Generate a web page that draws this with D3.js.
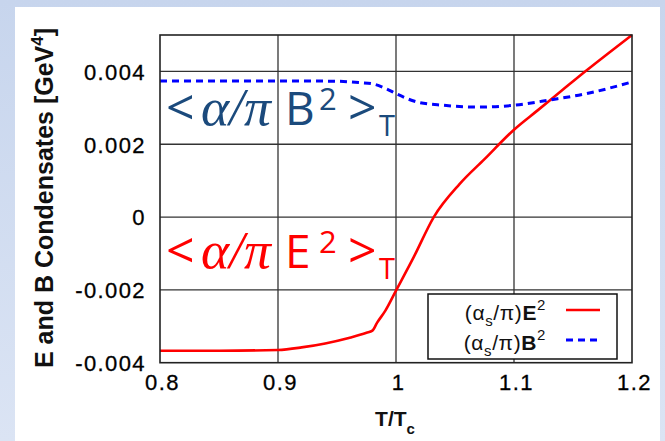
<!DOCTYPE html>
<html>
<head>
<meta charset="utf-8">
<script src="https://cdn.jsdelivr.net/npm/d3@7"></script>
<style>
  body { margin: 0; }
  svg { display: block; }
</style>
</head>
<body>
<div id="chart"></div>
<script>
// Data
const tValuesE = [0.80, 0.85, 0.90, 0.92, 0.94, 0.96, 0.975, 0.98, 0.984, 0.991, 1.00, 1.015, 1.032, 1.054, 1.075, 1.10, 1.12, 1.14, 1.16, 1.18, 1.20];
const eCondensate = [-0.00367, -0.00367, -0.00365, -0.00358, -0.00347, -0.00332, -0.00318, -0.00312, -0.0029, -0.00257, -0.00202, -0.0011, 0.0, 0.00091, 0.00159, 0.0024, 0.00293, 0.00346, 0.00399, 0.0045, 0.0050];

const tValuesB = [0.80, 0.85, 0.90, 0.95, 0.97, 0.98, 0.992, 1.00, 1.018, 1.04, 1.069, 1.10, 1.131, 1.16, 1.20];
const bCondensate = [0.00374, 0.00374, 0.00374, 0.00373, 0.00369, 0.00366, 0.00352, 0.00339, 0.00316, 0.00307, 0.00302, 0.00307, 0.00322, 0.00338, 0.00371];

const xTicks = [0.8, 0.9, 1.0, 1.1, 1.2];
const yTicks = [-0.004, -0.002, 0, 0.002, 0.004];
const legendLabels = [
  { main: "E", color: "#ff0000", dash: null },
  { main: "B", color: "#0000ff", dash: "7,5" }
];

const W = 665, H = 441;
const plot = { left: 160, right: 632, top: 35, bottom: 362.7 };

const svg = d3.select("#chart").append("svg")
  .attr("width", W)
  .attr("height", H);

// background
const defs = svg.append("defs");
const grad = defs.append("linearGradient")
  .attr("id", "bg").attr("x1", 0).attr("y1", 0).attr("x2", 0).attr("y2", 1);
grad.append("stop").attr("offset", "0%").attr("stop-color", "#c7d5ed");
grad.append("stop").attr("offset", "100%").attr("stop-color", "#dbe4f4");
svg.append("rect").attr("width", W).attr("height", H).attr("fill", "url(#bg)");
svg.append("rect")
  .attr("x", 15).attr("y", 7)
  .attr("width", 645).attr("height", H - 7)
  .attr("fill", "#ffffff");

// scales
const x = d3.scaleLinear().domain([0.8, 1.2]).range([plot.left, plot.right]);
const y = d3.scaleLinear().domain([-0.004, 0.005]).range([plot.bottom, plot.top]);

// grid
svg.append("g").selectAll("line")
  .data(xTicks.slice(1, -1))
  .enter().append("line")
  .attr("x1", d => x(d)).attr("x2", d => x(d))
  .attr("y1", plot.top).attr("y2", plot.bottom)
  .attr("stroke", "#333").attr("stroke-width", 1.3);

svg.append("g").selectAll("line")
  .data(yTicks.slice(1))
  .enter().append("line")
  .attr("x1", plot.left).attr("x2", plot.right)
  .attr("y1", d => y(d)).attr("y2", d => y(d))
  .attr("stroke", "#333").attr("stroke-width", 1.3);

// axes (labels only)
const xAxis = svg.append("g")
  .attr("transform", `translate(2,${plot.bottom})`)
  .call(d3.axisBottom(x).tickValues(xTicks).tickSize(0).tickPadding(8)
    .tickFormat(d => String(+d.toFixed(1))));
const yAxis = svg.append("g")
  .attr("transform", `translate(${plot.left},0)`)
  .call(d3.axisLeft(y).tickValues(yTicks).tickSize(0).tickPadding(14)
    .tickFormat(d => d === 0 ? "0" : d.toFixed(3)));
[xAxis, yAxis].forEach(g => {
  g.select(".domain").remove();
  g.selectAll("text")
    .attr("fill", "#000")
    .attr("stroke", "#000")
    .attr("stroke-width", 0.3)
    .style("font-family", "'Liberation Sans', Arial, sans-serif")
    .style("font-size", "22px")
    .style("letter-spacing", "1.4px");
});
xAxis.selectAll("text").attr("dy", "0.9em");
yAxis.selectAll("text").attr("dy", "0.36em");

// curves
const line = d3.line()
  .x(d => x(d[0]))
  .y(d => y(d[1]))
  .curve(d3.curveMonotoneX);

svg.append("path")
  .datum(tValuesE.map((t, i) => [t, eCondensate[i]]))
  .attr("fill", "none")
  .attr("stroke", "#ff0000")
  .attr("stroke-width", 2.6)
  .attr("d", line);

svg.append("path")
  .datum(tValuesB.map((t, i) => [t, bCondensate[i]]))
  .attr("fill", "none")
  .attr("stroke", "#0000ff")
  .attr("stroke-width", 3)
  .attr("stroke-dasharray", "7,5")
  .attr("d", line);

// frame
svg.append("rect")
  .attr("x", plot.left).attr("y", plot.top)
  .attr("width", plot.right - plot.left)
  .attr("height", plot.bottom - plot.top)
  .attr("fill", "none")
  .attr("stroke", "#222")
  .attr("stroke-width", 1.6);

// legend
const legend = svg.append("g");
legend.append("rect")
  .attr("x", 428).attr("y", 294)
  .attr("width", 189).attr("height", 65)
  .attr("fill", "#fff")
  .attr("stroke", "#111")
  .attr("stroke-width", 1.5);

legendLabels.forEach((d, i) => {
  const yy = 320 + i * 30;
  const t = legend.append("text")
    .attr("x", 546).attr("y", yy)
    .attr("text-anchor", "end")
    .attr("fill", "#111")
    .style("font-family", "'Liberation Sans', Arial, sans-serif")
    .style("font-size", "21px")
    .style("letter-spacing", "0.6px");
  t.append("tspan").text("(\u03b1");
  t.append("tspan").attr("dy", 6).style("font-size", "15px").text("s");
  t.append("tspan").attr("dy", -6).text("/\u03c0)");
  t.append("tspan").style("font-weight", "bold").text(d.main);
  t.append("tspan").attr("dy", -10).style("font-size", "15px").text("2");
  legend.append("line")
    .attr("x1", 566).attr("x2", 600)
    .attr("y1", yy - 10).attr("y2", yy - 10)
    .attr("stroke", d.color)
    .attr("stroke-width", d.dash ? 3 : 2.6)
    .attr("stroke-dasharray", d.dash);
});

// axis titles
svg.append("text")
  .attr("x", 395).attr("y", 426)
  .attr("text-anchor", "middle")
  .attr("fill", "#111")
  .style("font-family", "'Liberation Sans', Arial, sans-serif")
  .style("font-size", "21px")
  .style("font-weight", "bold")
  .call(t => {
    t.append("tspan").text("T/T");
    t.append("tspan").attr("dy", 8).style("font-size", "15px").text("c");
  });

svg.append("text")
  .attr("transform", "translate(53,198) rotate(-90)")
  .attr("text-anchor", "middle")
  .attr("fill", "#111")
  .style("font-family", "'Liberation Sans', Arial, sans-serif")
  .style("font-size", "25px")
  .style("font-weight", "bold")
  .call(t => {
    t.append("tspan").text("E and B Condensates [GeV");
    t.append("tspan").attr("dy", -10).style("font-size", "17px").text("4");
    t.append("tspan").attr("dy", 10).text("]");
  });

// in-plot annotations
function annotation(baseline, letter, color) {
  const g = svg.append("g").attr("fill", color);
  const sans = "'Open Sans', 'Noto Sans', sans-serif";
  g.append("text").attr("x", 166).attr("y", baseline)
    .style("font-family", sans).style("font-size", "50px").text("<");
  g.append("text").attr("x", 201).attr("y", baseline)
    .attr("textLength", 70).attr("lengthAdjust", "spacingAndGlyphs")
    .style("font-family", "'Liberation Serif', 'DejaVu Serif', serif")
    .style("font-style", "italic").style("font-size", "52px")
    .text("\u03b1/\u03c0");
  g.append("text").attr("x", 285).attr("y", baseline)
    .style("font-family", sans).style("font-size", "46px").text(letter);
  g.append("text").attr("x", 319).attr("y", baseline - 15)
    .style("font-family", sans).style("font-size", "31px").text("2");
  g.append("text").attr("x", 348).attr("y", baseline)
    .style("font-family", sans).style("font-size", "50px").text(">");
  g.append("text").attr("x", 379).attr("y", baseline + 11)
    .style("font-family", sans).style("font-size", "29px").text("T");
}
annotation(125, "B", "#1b4a7c");
annotation(268, "E", "#ff0000");
</script>
</body>
</html>
